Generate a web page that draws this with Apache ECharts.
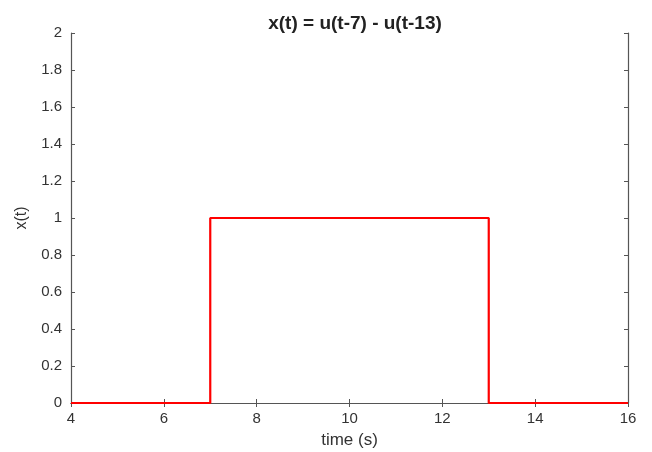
<!DOCTYPE html>
<html>
<head>
<meta charset="utf-8">
<script src="https://cdn.jsdelivr.net/npm/echarts@6/dist/echarts.min.js"></script>
<style>html,body{margin:0;padding:0;background:#fff}#c{width:652px;height:452px}</style>
</head>
<body>
<div id="c"></div>
<script>
const tValues = [4, 7, 7, 13, 13, 16];
const xValues = [0, 0, 1, 1, 0, 0];
const xTicks = [4, 6, 8, 10, 12, 14, 16];
const yTicks = [0, 0.2, 0.4, 0.6, 0.8, 1, 1.2, 1.4, 1.6, 1.8, 2];

const chart = echarts.init(document.getElementById('c'));
const axisColor = '#555';
const labelColor = '#333';
const font = 'Liberation Sans, Arial, sans-serif';
const common = {
  axisLine: {show: true, lineStyle: {color: axisColor, width: 1.2}},
  axisTick: {show: true, inside: true, length: 4, lineStyle: {color: axisColor}},
  splitLine: {show: false}
};
chart.setOption({
  animation: false,
  title: {
    text: 'x(t) = u(t-7) - u(t-13)',
    left: 350, top: 9, textAlign: 'center',
    textStyle: {fontFamily: font, fontWeight: 'bold', fontSize: 19, color: '#222'}
  },
  grid: {left: 71, right: 24, top: 33, bottom: 49, containLabel: false, outerBoundsMode: 'none'},
  xAxis: [
    Object.assign({
      type: 'value', min: 4, max: 16, interval: 2, position: 'bottom',
      name: 'time (s)', nameLocation: 'middle', nameGap: 29,
      nameTextStyle: {fontFamily: font, fontSize: 17, color: labelColor},
      axisLabel: {fontFamily: font, fontSize: 15, color: labelColor, margin: 8,
        formatter: v => xTicks.includes(v) ? String(v) : ''}
    }, common),
    Object.assign({
      type: 'value', min: 4, max: 16, interval: 2, position: 'top',
      axisLabel: {show: false}
    }, common)
  ],
  yAxis: [
    Object.assign({
      type: 'value', min: 0, max: 2, interval: 0.2, position: 'left',
      name: 'x(t)', nameLocation: 'middle', nameGap: 41, nameRotate: 90,
      nameTextStyle: {fontFamily: font, fontSize: 16, color: labelColor},
      axisLabel: {fontFamily: font, fontSize: 15, color: labelColor, margin: 9,
        formatter: v => { const r = Math.round(v * 10) / 10; return yTicks.includes(r) ? String(r) : ''; }}
    }, common),
    Object.assign({
      type: 'value', min: 0, max: 2, interval: 0.2, position: 'right',
      axisLabel: {show: false}
    }, common)
  ],
  series: [{
    type: 'line',
    data: tValues.map((t, i) => [t, xValues[i]]),
    showSymbol: false,
    lineStyle: {color: '#ff0000', width: 2.2},
    xAxisIndex: 0, yAxisIndex: 0
  }]
});
</script>
</body>
</html>
